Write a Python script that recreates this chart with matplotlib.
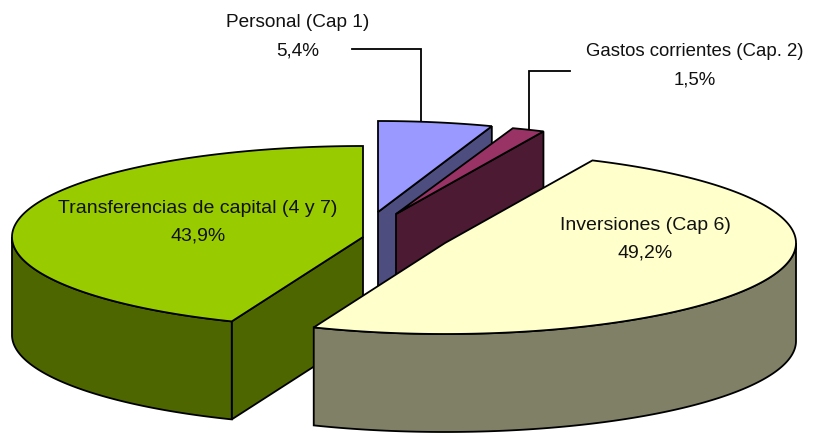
import numpy as np
import matplotlib
matplotlib.use("Agg")
import matplotlib.pyplot as plt
from matplotlib.patches import Polygon

categories = ["Personal (Cap 1)", "Gastos corrientes (Cap. 2)", "Inversiones (Cap 6)", "Transferencias de capital (4 y 7)"]
values = [5.4, 1.5, 49.2, 43.9]
value_labels = ["5,4%", "1,5%", "49,2%", "43,9%"]

top_colors = ["#9999FF", "#993366", "#FFFFCC", "#99CC00"]
side_colors = ["#4D4D80", "#4D1A33", "#808066", "#4D6600"]
centers = [(378, 212), (396, 214), (445, 243), (363, 237)]
radii_x = [342, 351, 351, 351]
radius_y = 91
depth = 98

plt.rcParams["font.family"] = ["Liberation Sans", "DejaVu Sans"]
fig = plt.figure(figsize=(8.23, 4.33), dpi=100)
ax = fig.add_axes([0, 0, 1, 1])
ax.set_xlim(0, 823)
ax.set_ylim(433, 0)
ax.axis("off")

edges = np.concatenate([[0], np.cumsum(values)]) / sum(values) * 2 * np.pi


def arc(i, t0, t1):
    t = np.linspace(t0, t1, max(2, int(abs(t1 - t0) * 90)))
    cx, cy = centers[i]
    return np.column_stack([cx + radii_x[i] * np.sin(t), cy - radius_y * np.cos(t)])


def add(points, color, z):
    ax.add_patch(Polygon(points, closed=True, facecolor=color, edgecolor="black",
                         linewidth=1.3, joinstyle="miter", zorder=z))


def draw_slice(i, z):
    t0, t1 = edges[i], edges[i + 1]
    apex = np.array(centers[i], float)
    down = np.array([0, depth])
    # cut face toward the viewer: closing edge on the right, opening edge on the left
    if t1 < np.pi / 2:
        p = arc(i, t1, t1 + 1e-6)[0]
        add([apex, p, p + down, apex + down], side_colors[i], z)
    if t0 > np.pi:
        p = arc(i, t0, t0 + 1e-6)[0]
        add([apex, p, p + down, apex + down], side_colors[i], z)
    # outer rim, only the part that faces the viewer
    lo, hi = max(t0, np.pi / 2), min(t1, 3 * np.pi / 2)
    if hi > lo:
        rim = arc(i, lo, hi)
        add(np.vstack([rim, (rim + down)[::-1]]), side_colors[i], z)
    add(np.vstack([[apex], arc(i, t0, t1)]), top_colors[i], z + 0.5)


for z, i in enumerate([3, 0, 1, 2]):
    draw_slice(i, z + 1)

ax.plot([352, 421, 421], [49, 49, 122], color="black", lw=1.3, zorder=0.5, solid_joinstyle="miter")
ax.plot([570, 529, 529], [71, 71, 130], color="black", lw=1.3, zorder=0.5, solid_joinstyle="miter")

label_xy = [(298, 36.5), (695, 66), (645, 239.5), (198, 222.5)]
label_sizes = [13.7, 13.4, 14, 14]
for name, val, (x, y), fs in zip(categories, value_labels, label_xy, label_sizes):
    ax.text(x, y, name + "\n" + val, ha="center", va="center", fontsize=fs,
            color="#111111", linespacing=1.89 * 13.4 / fs, zorder=10)

fig.savefig("out.png", dpi=100)
